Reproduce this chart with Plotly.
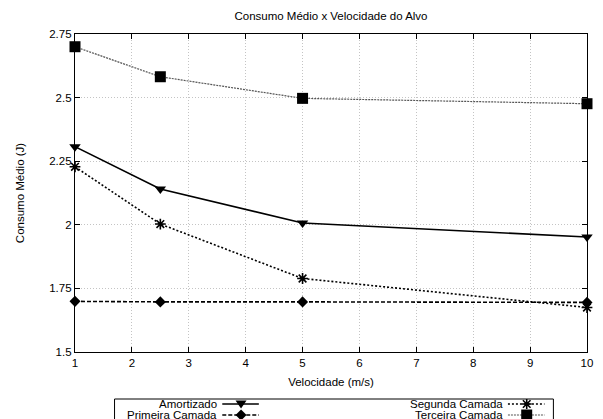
import plotly.graph_objects as go

velocidade = [1, 2.5, 5, 10]
amortizado = [2.307, 2.141, 2.007, 1.952]
primeira = [1.699, 1.697, 1.697, 1.695]
segunda = [2.228, 2.003, 1.789, 1.675]
terceira = [2.700, 2.582, 2.497, 2.476]

x_ticks = list(range(1, 11))
y_ticks = [1.5, 1.75, 2, 2.25, 2.5, 2.75]
y_tick_labels = ["1.5", "1.75", "2", "2.25", "2.5", "2.75"]

FONT = "Liberation Sans, Arial, sans-serif"
FS = 11.5
W, H = 603, 419
ML, MR, MT, MB = 75, 10, 34, 67
XR = [1, 10]
YR = [1.5, 2.75]

series = [
    ("Amortizado", amortizado, "solid", 1.6, "#000000", "triangle-down", 10),
    ("Primeira Camada", primeira, "4px,2px", 1.6, "#000000", "diamond", 8.5),
    ("Segunda Camada", segunda, "2px,2px", 1.6, "#000000", "asterisk-open", 9),
    ("Terceira Camada", terceira, "2px,1px", 1.2, "#555555", "square", 11),
]

fig = go.Figure()
for name, ys, dash, lw, col, sym, ms in series:
    fig.add_trace(go.Scatter(
        x=velocidade, y=ys, name=name, mode="lines+markers",
        line=dict(color=col, width=lw, dash=dash),
        marker=dict(symbol=sym, size=ms, color="#000000",
                    line=dict(color="#000000", width=1.6 if "asterisk" in sym else 0)),
        cliponaxis=False, showlegend=False,
    ))

# manual gnuplot-style legend (text right-aligned, sample to the right)
pw = W - ML - MR
ph = H - MT - MB
def px(x):
    return (x - ML) / pw
def py(y):
    return (H - MB - y) / ph

glyphs = {
    "triangle-down": ("M-5.5,3.5 L5.5,3.5 L0,-4.5 Z", True),
    "diamond": ("M0,-5.5 L5.5,0 L0,5.5 L-5.5,0 Z", True),
    "asterisk-open": ("M-5,0 L5,0 M0,-5 L0,5 M-3.8,-3.8 L3.8,3.8 M-3.8,3.8 L3.8,-3.8", False),
    "square": ("M-5.5,-5.5 L5.5,-5.5 L5.5,5.5 L-5.5,5.5 Z", True),
}

legend_slots = [
    (0, 221, 404), (1, 221, 415), (2, 510, 404), (3, 510, 415),
]
shapes = [dict(type="rect", xref="paper", yref="paper",
               x0=px(115), x1=px(559), y0=py(399), y1=py(440),
               line=dict(color="#000000", width=1), fillcolor="rgba(0,0,0,0)")]
annotations = []
for idx, tx, ty in legend_slots:
    name, ys, dash, lw, col, sym, ms = series[idx]
    annotations.append(dict(text=name, x=px(tx), y=py(ty), xref="paper", yref="paper",
                            xanchor="right", yanchor="middle", showarrow=False,
                            font=dict(family=FONT, size=FS, color="#000000")))
    shapes.append(dict(type="line", xref="paper", yref="paper",
                       x0=px(tx + 3), x1=px(tx + 40), y0=py(ty), y1=py(ty),
                       line=dict(color=col, width=lw, dash=dash)))
    path, filled = glyphs[sym]
    shapes.append(dict(type="path", xref="paper", yref="paper",
                       xsizemode="pixel", ysizemode="pixel",
                       xanchor=px(tx + 22), yanchor=py(ty), path=path,
                       fillcolor="#000000" if filled else "rgba(0,0,0,0)",
                       line=dict(color="#000000", width=0 if filled else 1.6)))

axis_common = dict(
    showline=True, linecolor="#000000", linewidth=1.2, mirror="ticks",
    ticks="inside", ticklen=5, tickcolor="#000000", tickwidth=1,
    showgrid=True, gridcolor="#c4c4c4", griddash="1px,2px", gridwidth=1,
    zeroline=False, tickfont=dict(family=FONT, size=FS, color="#000000"),
)

fig.update_layout(
    width=W, height=H,
    margin=dict(l=ML, r=MR, t=MT, b=MB),
    paper_bgcolor="white", plot_bgcolor="white",
    font=dict(family=FONT, size=FS, color="#000000"),
    title=dict(text="Consumo Médio x Velocidade do Alvo", x=0.5, xref="paper",
               y=1 - 16 / H, yanchor="middle", xanchor="center",
               font=dict(family=FONT, size=FS, color="#000000")),
    xaxis=dict(range=XR, tickvals=x_ticks, ticktext=[str(v) for v in x_ticks],
               title=dict(text="Velocidade (m/s)", standoff=10,
                          font=dict(family=FONT, size=FS)), **axis_common),
    yaxis=dict(range=YR, tickvals=y_ticks, ticktext=y_tick_labels,
               title=dict(text="Consumo Médio (J)", standoff=22,
                          font=dict(family=FONT, size=FS)), **axis_common),
    shapes=shapes,
    annotations=annotations,
    showlegend=False,
)

fig.write_html("out.html")
